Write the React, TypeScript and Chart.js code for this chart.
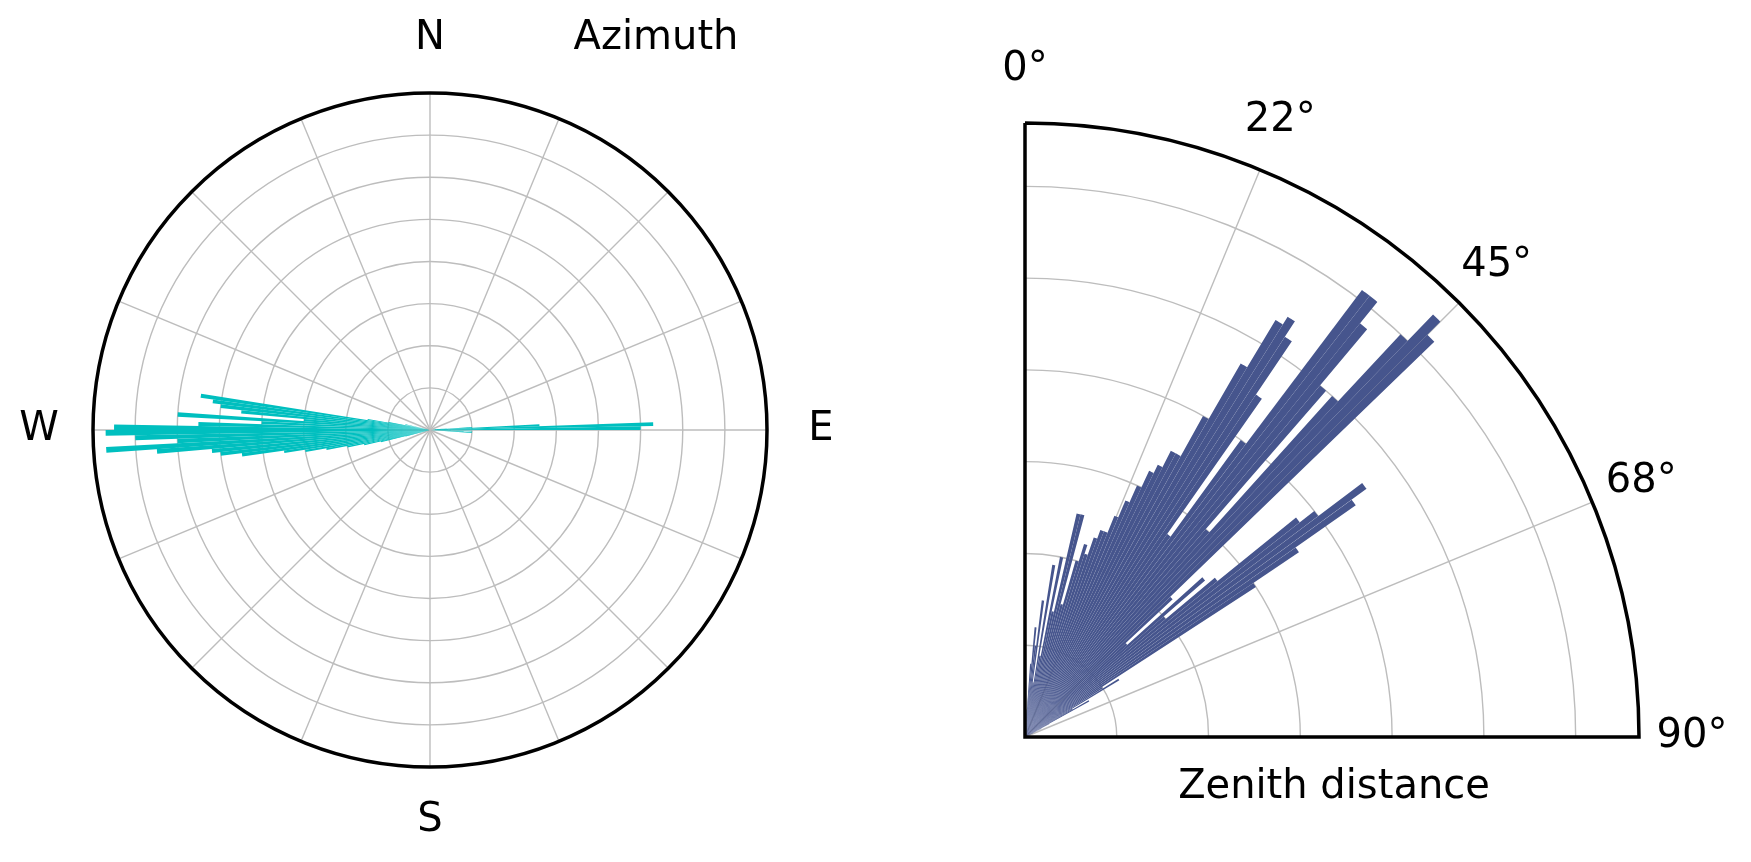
import { useEffect, useRef } from 'react';
import Chart from 'chart.js/auto';

// Azimuth histogram: 1° bins, only the non-empty ones are listed
const azimuthDeg = [84, 86, 87, 88, 89, 90, 91, 92, 93,
  255, 256, 257, 258, 259, 260, 261, 262, 263, 264, 265, 266, 267, 268, 269,
  270, 271, 272, 273, 274, 275, 276, 277, 278, 279, 280, 282];
const azimuthCount = [0.4, 1.0, 2.6, 5.3, 5.0, 0.5, 1.0, 0.8, 1.0,
  0.6, 1.2, 1.6, 2.0, 2.5, 3.0, 3.5, 4.5, 5.0, 5.2, 6.5, 7.7, 6.0, 7.0, 7.7,
  7.5, 5.5, 4.0, 6.0, 3.0, 4.5, 5.0, 5.2, 5.5, 1.5, 1.0, 0.6];

// Zenith distance histogram: 1° bins from 0° to 89°
const zenithCount = [
  0, 0, 0, 0.3, 0.8, 1.2, 1.0, 1.5, 0.6, 1.9,
  0.9, 2.0, 1.4, 2.5, 2.5, 1.5, 2.0, 2.2, 2.1, 2.3,
  2.4, 2.4, 2.6, 2.8, 3.0, 3.2, 3.3, 3.5, 3.5, 4.0,
  4.7, 5.3, 5.4, 5.2, 4.5, 2.7, 4.0, 6.1, 6.1, 5.8,
  5.0, 3.0, 5.0, 6.0, 6.4, 6.2, 2.2, 1.5, 2.6, 2.0,
  2.7, 3.8, 4.0, 4.6, 4.4, 3.6, 3.0, 1.0, 1.2, 0.6,
  0.8, 0.3, 0.2, 0.1, 0, 0, 0, 0, 0, 0,
  0, 0, 0, 0, 0, 0, 0, 0, 0, 0,
  0, 0, 0, 0, 0, 0, 0, 0, 0, 0,
];

const compassLabels = ['N', 'E', 'S', 'W'];
const zenithTicks = ['0°', '22°', '45°', '68°', '90°'];

const GRID = '#bdbdbd';
const FONT = '40px "DejaVu Sans", sans-serif';

function polar(cx: number, cy: number, r: number, deg: number) {
  const a = (deg * Math.PI) / 180;
  return [cx + r * Math.sin(a), cy - r * Math.cos(a)];
}

function gridPlugin(sweep: number, rings: number[], spokes: number[]) {
  return {
    id: 'polarGrid',
    beforeDatasetsDraw(chart: any) {
      const s = chart.scales.r;
      const { ctx } = chart;
      const cx = s.xCenter, cy = s.yCenter, R = s.drawingArea;
      ctx.save();
      ctx.strokeStyle = GRID;
      ctx.lineWidth = 1.4;
      for (const v of rings) {
        const r = s.getDistanceFromCenterForValue(v);
        ctx.beginPath();
        ctx.arc(cx, cy, r, -Math.PI / 2, -Math.PI / 2 + (sweep * Math.PI) / 180);
        ctx.stroke();
      }
      for (const d of spokes) {
        const [x, y] = polar(cx, cy, R, d);
        ctx.beginPath();
        ctx.moveTo(cx, cy);
        ctx.lineTo(x, y);
        ctx.stroke();
      }
      ctx.restore();
    },
    afterDraw(chart: any) {
      const s = chart.scales.r;
      const { ctx } = chart;
      const cx = s.xCenter, cy = s.yCenter, R = s.drawingArea;
      ctx.save();
      ctx.strokeStyle = '#000';
      ctx.lineWidth = 3.5;
      ctx.beginPath();
      if (sweep >= 360) {
        ctx.arc(cx, cy, R, 0, Math.PI * 2);
      } else {
        ctx.moveTo(cx, cy - R);
        ctx.lineTo(cx, cy);
        ctx.lineTo(cx + R, cy);
        ctx.arc(cx, cy, R, 0, -Math.PI / 2, true);
      }
      ctx.stroke();
      ctx.fillStyle = '#000';
      ctx.font = FONT;
      ctx.textAlign = 'center';
      ctx.textBaseline = 'middle';
      if (sweep >= 360) {
        compassLabels.forEach((t, i) => {
          const [x, y] = polar(cx, cy, R + 54, i * 90);
          ctx.fillText(t, x, y);
        });
        ctx.fillText('Azimuth', cx + 226, cy - 391);
      } else {
        zenithTicks.forEach((t, i) => {
          const [x, y] = polar(cx, cy, R + 53, i * 22.5);
          ctx.fillText(t, x, y);
        });
        ctx.fillText('Zenith distance', cx + 309, cy + 51);
      }
      ctx.restore();
    },
  };
}

function baseOptions(max: number, pad: number) {
  return {
    responsive: false,
    animation: false as const,
    layout: { padding: pad },
    plugins: { legend: { display: false }, tooltip: { enabled: false } },
    scales: {
      r: {
        min: 0,
        max,
        ticks: { display: false, stepSize: 1 },
        grid: { display: false },
        angleLines: { display: false },
        pointLabels: { display: false },
      },
    },
  };
}

export default function App() {
  const leftRef = useRef<HTMLCanvasElement>(null);
  const rightRef = useRef<HTMLCanvasElement>(null);

  useEffect(() => {
    if (!leftRef.current || !rightRef.current) return;

    const azBins = Array.from({ length: 360 }, (_, i) => i);
    const azData = azBins.map((d) => {
      const k = azimuthDeg.indexOf(d);
      return k >= 0 ? azimuthCount[k] : 0;
    });
    const left = new Chart(leftRef.current, {
      type: 'polarArea',
      data: {
        labels: azBins.map(String),
        datasets: [{ data: azData, backgroundColor: '#00bfbf', borderWidth: 0 }],
      },
      options: baseOptions(8, 93) as any,
      plugins: [gridPlugin(360, [1, 2, 3, 4, 5, 6, 7], Array.from({ length: 16 }, (_, i) => i * 22.5))],
    });

    const zData = [...zenithCount, 0];
    const right = new Chart(rightRef.current, {
      type: 'polarArea',
      data: {
        labels: zData.map((_, i) => String(i)),
        datasets: [{
          data: zData,
          backgroundColor: '#46558d',
          borderWidth: 0,
          angle: (c: any) => (c.dataIndex < zenithCount.length ? 1 : 270),
        } as any],
      },
      options: baseOptions(6.69, 110) as any,
      plugins: [gridPlugin(90, [1, 2, 3, 4, 5, 6], [22.5, 45, 67.5])],
    });

    return () => {
      left.destroy();
      right.destroy();
    };
  }, []);

  return (
    <div style={{ position: 'fixed', left: 0, top: 0, width: 1751, height: 862, overflow: 'hidden', background: '#fff' }}>
      <canvas ref={leftRef} width={860} height={860} style={{ position: 'absolute', left: 0, top: 0, width: 860, height: 860 }} />
      <canvas ref={rightRef} width={1448} height={1448} style={{ position: 'absolute', left: 301, top: 13, width: 1448, height: 1448 }} />
    </div>
  );
}
